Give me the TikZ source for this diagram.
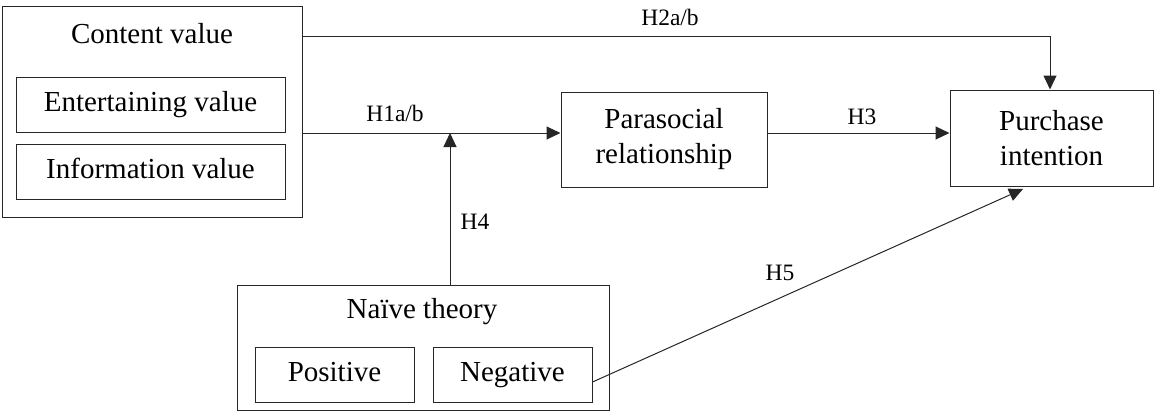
\documentclass[tikz,border=0pt]{standalone}
\usepackage{fontspec}
\setmainfont{Liberation Serif}
\usetikzlibrary{arrows.meta}
\tikzset{
  box/.style={draw=black!85, line width=1pt, rectangle, inner sep=0pt, align=center,
    font=\fontsize{29}{35}\selectfont},
  sbox/.style={box, text height=20pt, text depth=7pt},
  txt/.style={inner sep=0pt, align=center, font=\fontsize{29}{35}\selectfont,
    text height=20pt, text depth=7pt},
  lbl/.style={inner sep=0pt, font=\fontsize{23.5}{27}\selectfont},
  arr/.style={draw=black!85, line width=1pt, -{Triangle[length=14pt,width=13pt]}},
  ln/.style={draw=black!85, line width=1pt}
}
\begin{document}
\begin{tikzpicture}[x=1pt,y=-1pt]
\useasboundingbox (0,0) rectangle (1155,412);
% Content value group
\node[box, minimum width=300pt, minimum height=210pt] (cv) at (152,112) {};
\node[txt] (cvt) at (152,37) {Content value};
\node[sbox, minimum width=269pt, minimum height=55pt] (ev) at (150.5,104.5) {Entertaining value};
\node[sbox, minimum width=269pt, minimum height=55pt] (iv) at (150.5,171.5) {Information value};
% Parasocial
\node[box, minimum width=206pt, minimum height=95pt] (pr) at (664,139.5) {Parasocial\\relationship};
% Purchase
\node[box, minimum width=203pt, minimum height=96pt] (pi) at (1051.5,138) {Purchase\\intention};
% Naive theory group
\node[box, minimum width=372pt, minimum height=125pt] (nt) at (423,347.5) {};
\node[txt] (ntt) at (422,312) {Naïve theory};
\node[sbox, minimum width=159pt, minimum height=55pt] (pos) at (334.5,374.5) {Positive};
\node[sbox, minimum width=159pt, minimum height=55pt] (neg) at (512.5,374.5) {Negative};
% coordinates
\coordinate (h2) at (1050,36.5);
\coordinate (h1) at (0,133);
\coordinate (h4) at (450,133);
\coordinate (h5s) at (0,382);
\coordinate (h5e) at (1023,189);
% connectors
\draw[arr] (cv.east |- h2) -- (h2) -- (pi.north -| h2);
\draw[arr] (cv.east |- h1) -- (pr.west |- h1);
\draw[arr] (pr.east |- h1) -- (pi.west |- h1);
\draw[arr] (nt.north -| h4) -- (h4);
\draw[arr] (neg.east |- h5s) -- (h5e);
% labels
\node[lbl] (l2) at (670,17) {H2a/b};
\node[lbl] (l1) at (395,113) {H1a/b};
\node[lbl] (l3) at (862,117) {H3};
\node[lbl] (l4) at (475,222) {H4};
\node[lbl] (l5) at (780,273) {H5};
\end{tikzpicture}
\end{document}
